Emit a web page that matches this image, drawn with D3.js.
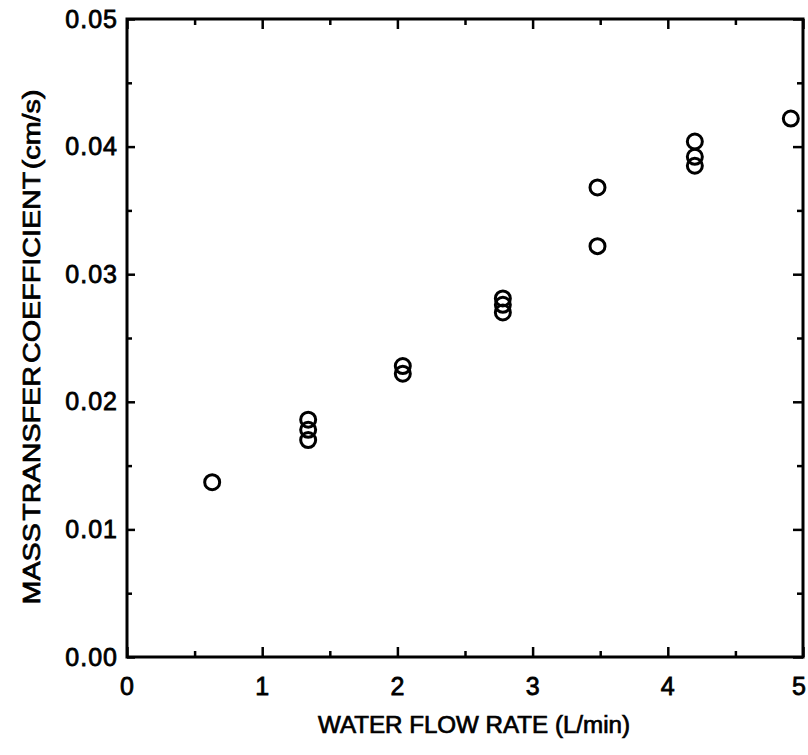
<!DOCTYPE html>
<html>
<head>
<meta charset="utf-8">
<script src="https://cdn.jsdelivr.net/npm/d3@7"></script>
<style>
  body { margin: 0; background: #fff; }
  text { font-family: "Liberation Sans", Arial, sans-serif; fill: #000; }
</style>
</head>
<body>
<div id="chart"></div>
<script>
// data
var flowRate = [0.63, 1.34, 1.34, 1.34, 2.04, 2.04, 2.78, 2.78, 2.78, 3.48, 3.48, 4.20, 4.20, 4.20, 4.91];
var massTransfer = [0.0137, 0.0186, 0.0178, 0.0170, 0.0228, 0.0222, 0.0281, 0.0276, 0.0270, 0.0368, 0.0322, 0.0404, 0.0392, 0.0385, 0.0422];
var xMajor = [0, 1, 2, 3, 4, 5];
var xMinor = [0.5, 1.5, 2.5, 3.5, 4.5];
var yMajor = [0, 0.01, 0.02, 0.03, 0.04, 0.05];
var yMinor = [0.005, 0.015, 0.025, 0.035, 0.045];

var svgWidth = 808;
var svgHeight = 755;
var margin = { top: 19, right: 5, bottom: 98, left: 127 };
var width = svgWidth - margin.left - margin.right;
var height = svgHeight - margin.top - margin.bottom;

var svg = d3.select("#chart")
    .append("svg")
    .attr("width", svgWidth)
    .attr("height", svgHeight);

var chartGroup = svg.append("g")
    .attr("transform", `translate(${margin.left}, ${margin.top})`);

var xScale = d3.scaleLinear().domain([0, 5]).range([0, width]);
var yScale = d3.scaleLinear().domain([0, 0.05]).range([height, 0]);

function styleAxis(g) {
    g.select(".domain").remove();
    g.selectAll(".tick line").attr("stroke", "#000").attr("stroke-width", 2.5);
    g.selectAll(".tick text")
        .attr("font-size", "25px")
        .attr("letter-spacing", "1px")
        .attr("stroke", "#000")
        .attr("stroke-width", 0.8);
}

// bottom
var bottomAxis = chartGroup.append("g")
    .attr("transform", `translate(0, ${height})`)
    .call(d3.axisBottom(xScale).tickValues(xMajor).tickSize(-10).tickPadding(20).tickFormat(d3.format("d")))
    .call(styleAxis);
// last label sits against the page edge, nudge it in
bottomAxis.selectAll(".tick text").filter(d => d === 5).attr("dx", "-4");
chartGroup.append("g")
    .attr("transform", `translate(0, ${height})`)
    .call(d3.axisBottom(xScale).tickValues(xMinor).tickSize(-6).tickFormat(""))
    .call(styleAxis);

// top
chartGroup.append("g")
    .call(d3.axisTop(xScale).tickValues(xMajor).tickSize(-10).tickFormat(""))
    .call(styleAxis);
chartGroup.append("g")
    .call(d3.axisTop(xScale).tickValues(xMinor).tickSize(-6).tickFormat(""))
    .call(styleAxis);

// left
chartGroup.append("g")
    .call(d3.axisLeft(yScale).tickValues(yMajor).tickSize(-8).tickPadding(9).tickFormat(d3.format(".2f")))
    .call(styleAxis);
chartGroup.append("g")
    .call(d3.axisLeft(yScale).tickValues(yMinor).tickSize(-5).tickFormat(""))
    .call(styleAxis);

// right
chartGroup.append("g")
    .attr("transform", `translate(${width}, 0)`)
    .call(d3.axisRight(yScale).tickValues(yMajor).tickSize(-10).tickFormat(""))
    .call(styleAxis);
chartGroup.append("g")
    .attr("transform", `translate(${width}, 0)`)
    .call(d3.axisRight(yScale).tickValues(yMinor).tickSize(-6).tickFormat(""))
    .call(styleAxis);

// frame
chartGroup.append("rect")
    .attr("x", 0)
    .attr("y", 0)
    .attr("width", width)
    .attr("height", height)
    .attr("fill", "none")
    .attr("stroke", "#000")
    .attr("stroke-width", 3);

// points
chartGroup.selectAll("circle")
    .data(flowRate)
    .enter()
    .append("circle")
    .attr("cx", d => xScale(d))
    .attr("cy", (d, i) => yScale(massTransfer[i]))
    .attr("r", 7.5)
    .attr("fill", "none")
    .attr("stroke", "#000")
    .attr("stroke-width", 3);

// axis labels
chartGroup.append("text")
    .attr("x", 347)
    .attr("y", height + 76)
    .attr("text-anchor", "middle")
    .attr("font-size", "23px")
    .attr("stroke", "#000")
    .attr("stroke-width", 0.7)
    .attr("textLength", 312)
    .attr("lengthAdjust", "spacingAndGlyphs")
    .text("WATER FLOW RATE (L/min)");

chartGroup.append("text")
    .attr("transform", "rotate(-90)")
    .attr("x", -328)
    .attr("y", -87)
    .attr("text-anchor", "middle")
    .attr("font-size", "23px")
    .attr("stroke", "#000")
    .attr("stroke-width", 0.7)
    .attr("word-spacing", "-4px")
    .attr("textLength", 515)
    .attr("lengthAdjust", "spacingAndGlyphs")
    .text("MASS TRANSFER COEFFICIENT (cm/s)");
</script>
</body>
</html>
